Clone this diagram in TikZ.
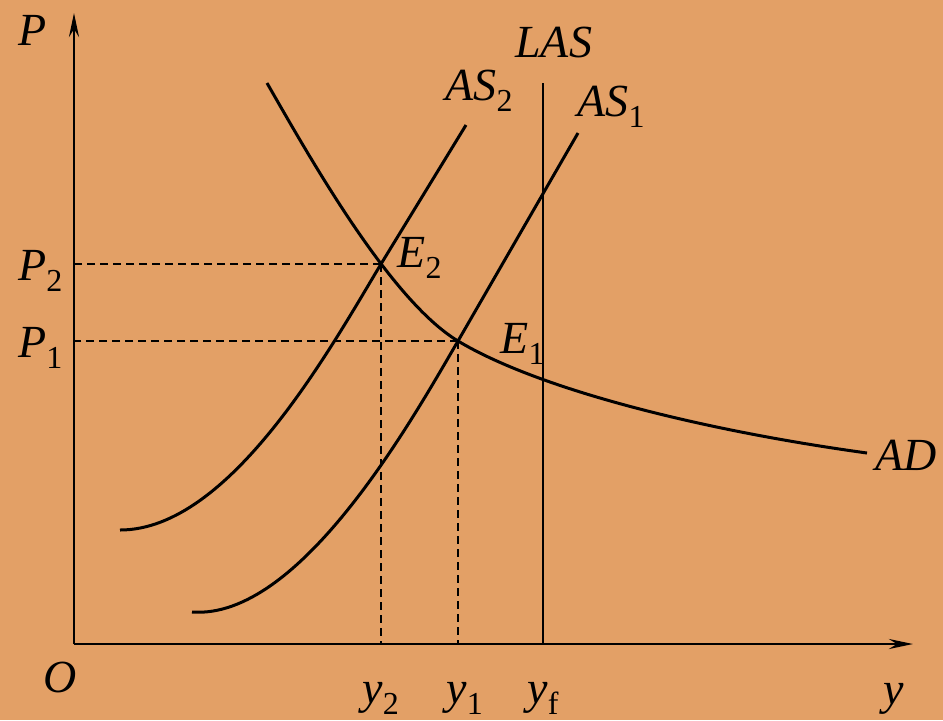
\documentclass[tikz,border=0pt]{standalone}
\usepackage{fontspec}
\setmainfont{Liberation Serif}
\usepackage{tikz}
\usetikzlibrary{arrows.meta}
\definecolor{ChartPeach}{HTML}{E3A066}
\newcommand{\sublbl}[2]{\textit{#1}\raisebox{-0.25em}{\fontsize{16}{16}\selectfont\upshape #2}}

\begin{document}
\begin{tikzpicture}[x=0.5pt,y=-0.5pt,
      axis/.style={line width=1.4pt,-{Stealth[length=12pt,width=5pt,inset=4pt]}},
      curve/.style={line width=1.5pt,line join=round},
      guide/.style={line width=1pt,dash pattern=on 4pt off 2.5pt},
      lab/.style={font=\fontsize{23}{26}\selectfont\itshape,inner sep=0pt,anchor=base west}]
    \fill[ChartPeach] (0,0) rectangle (943,720);
    \coordinate (O)  at (74,644);
    \coordinate (Ptop) at (74,13);
    \coordinate (Yend) at (913,644);
    \coordinate (E2) at (381,264);
    \coordinate (E1) at (458,341);
    \coordinate (LAStop) at (543,83);
    \coordinate (LASbot) at (543,644);
    % axes
    \draw[axis] (O) -- (Ptop);
    \draw[axis] (O) -- (Yend);
    % long run supply
    \draw[line width=1pt] (LASbot) -- (LAStop);
    % short run supply curves and demand
    \draw[curve] (120,530) .. controls (230,530) and (330,349) .. (E2) -- (466,125);
    \draw[curve] (192,612) .. controls (300,620) and (412,420) .. (E1) -- (578,133);
    \draw[curve] (267,83) .. controls (310,158) and (390,300) .. (E1)
                 .. controls (538,389) and (700,430) .. (867,453);
    % equilibrium guides
    \draw[guide] (E2) -- (O |- E2);
    \draw[guide] (E2) -- (E2 |- O);
    \draw[guide] (E1) -- (O |- E1);
    \draw[guide] (E1) -- (E1 |- O);
    % labels
    \node[lab] (lP)   at (18,45)   {P};
    \node[lab] (lO)   at (43,692)  {O};
    \node[lab] (ly)   at (883,704) {y};
    \node[lab] (ly2)  at (362,703) {\sublbl{y}{2}};
    \node[lab] (ly1)  at (446,703) {\sublbl{y}{1}};
    \node[lab] (lyf)  at (527,703) {\sublbl{y}{f}};
    \node[lab] (lP2)  at (18,280)  {\sublbl{P}{2}};
    \node[lab] (lP1)  at (18,357)  {\sublbl{P}{1}};
    \node[lab] (lE2)  at (397,267) {\sublbl{E}{2}};
    \node[lab] (lE1)  at (500,353) {\sublbl{E}{1}};
    \node[lab] (lLAS) at (515,57)  {LAS};
    \node[lab] (lAS2) at (445,100) {\sublbl{AS}{2}};
    \node[lab] (lAS1) at (577,116) {\sublbl{AS}{1}};
    \node[lab] (lAD)  at (875,470) {AD};
  \end{tikzpicture}
\end{document}
